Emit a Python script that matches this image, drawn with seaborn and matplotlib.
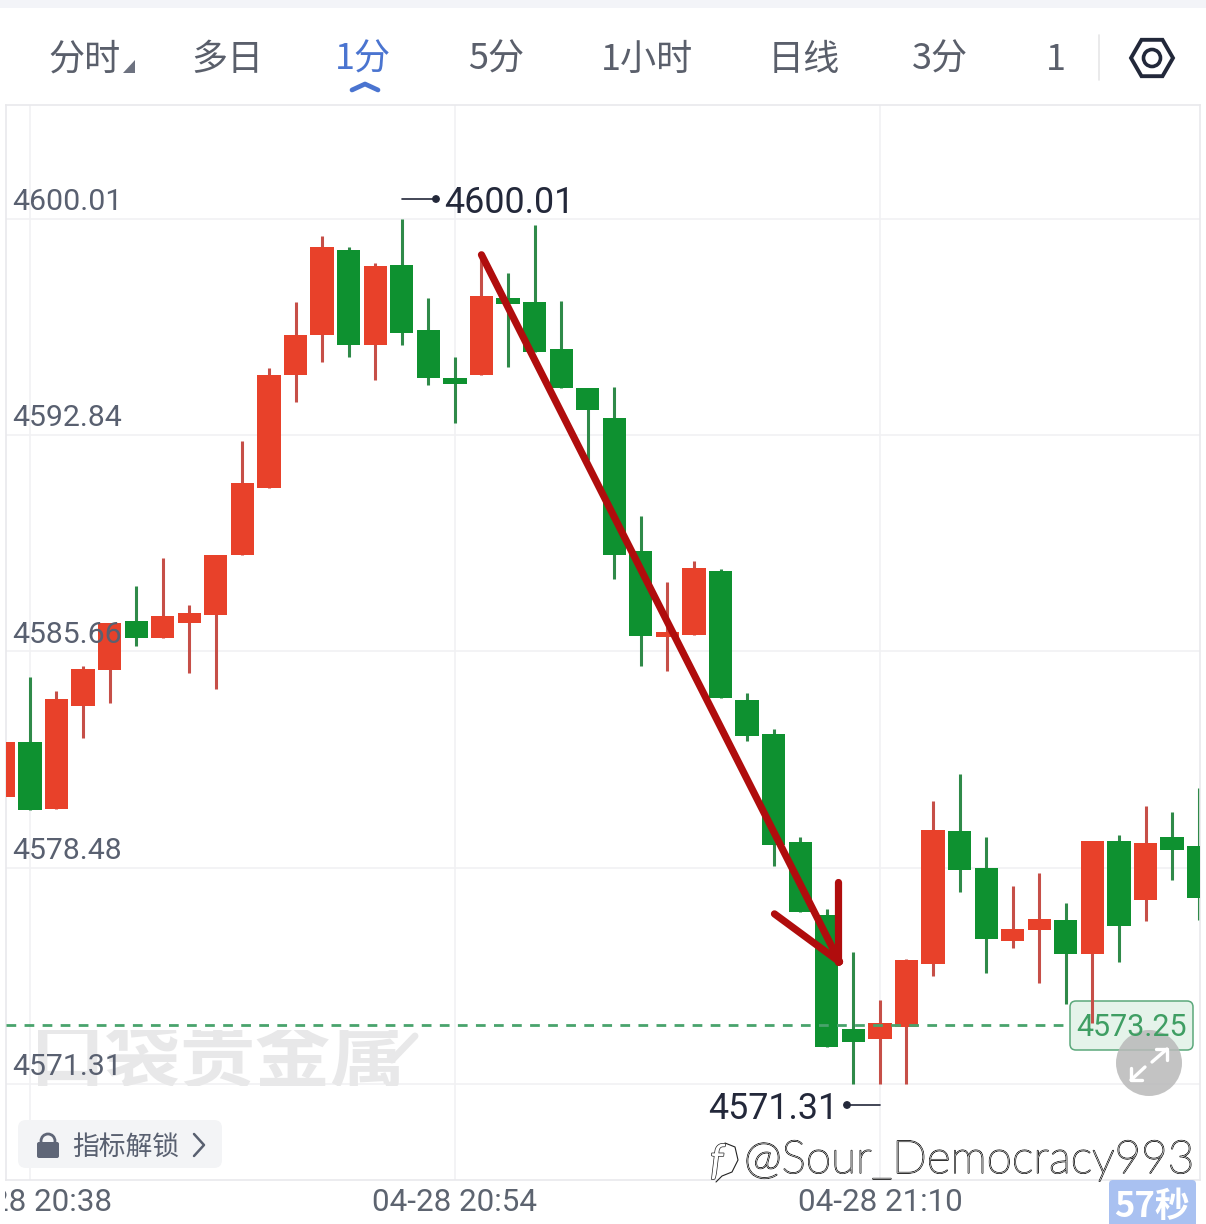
# -*- coding: utf-8 -*-
import numpy as np
import pandas as pd
import seaborn as sns
import matplotlib.pyplot as plt
from matplotlib.patches import Circle, FancyBboxPatch, Polygon, Rectangle, RegularPolygon
from matplotlib.transforms import Bbox
import matplotlib.patheffects as pe

# one minute candles, first one is cut off by the left edge
minute_idx = list(range(-1, 45))
opens = [4580.83, 4582.66, 4580.43, 4583.85, 4585.05, 4586.67, 4586.11, 4586.61, 4586.87, 4588.86,
         4591.08, 4594.83, 4596.16, 4598.98, 4595.83, 4598.48, 4596.33, 4594.73, 4594.83, 4597.39,
         4597.26, 4595.70, 4594.40, 4593.42, 4588.99, 4586.14, 4586.21, 4588.33, 4584.05, 4582.92,
         4579.32, 4576.92, 4573.13, 4572.80, 4573.20, 4575.29, 4579.70, 4578.48, 4576.05, 4576.42,
         4576.75, 4575.62, 4579.37, 4577.41, 4579.50, 4579.21]
closes = [4582.66, 4580.40, 4584.08, 4585.08, 4586.61, 4586.11, 4586.84, 4586.94, 4588.86, 4591.25,
          4594.83, 4596.16, 4599.08, 4595.83, 4598.45, 4596.23, 4594.73, 4594.54, 4597.46, 4597.19,
          4595.60, 4594.40, 4593.67, 4588.86, 4586.17, 4586.31, 4588.43, 4584.12, 4582.86, 4579.24,
          4577.02, 4572.54, 4572.70, 4573.33, 4575.42, 4579.74, 4578.41, 4576.12, 4576.45, 4576.78,
          4575.62, 4579.37, 4576.55, 4579.31, 4579.07, 4577.48]
highs = [4582.66, 4584.81, 4584.35, 4585.18, 4586.61, 4587.83, 4588.76, 4587.20, 4588.86, 4592.64,
         4595.07, 4597.26, 4599.45, 4599.08, 4598.55, 4600.01, 4597.39, 4595.43, 4598.82, 4598.22,
         4599.81, 4597.29, 4594.40, 4594.44, 4590.16, 4587.97, 4588.66, 4588.40, 4584.28, 4583.09,
         4579.50, 4577.12, 4575.69, 4574.10, 4575.46, 4580.70, 4581.60, 4579.50, 4577.88, 4578.31,
         4577.31, 4579.37, 4579.57, 4580.53, 4580.33, 4581.13]
lows = [4580.83, 4580.40, 4580.43, 4582.79, 4583.95, 4585.84, 4586.11, 4584.95, 4584.42, 4588.86,
        4591.08, 4593.94, 4595.27, 4595.43, 4594.67, 4595.83, 4594.50, 4593.24, 4594.83, 4595.10,
        4595.60, 4594.40, 4592.01, 4588.07, 4585.18, 4585.01, 4586.21, 4584.12, 4582.69, 4578.54,
        4577.02, 4572.54, 4571.31, 4571.31, 4571.31, 4574.89, 4577.68, 4574.99, 4575.82, 4574.66,
        4573.96, 4573.33, 4575.36, 4576.72, 4578.08, 4576.75]

price_ticks = [4600.01, 4592.84, 4585.66, 4578.48, 4571.31]
time_ticks = [0, 16, 32]
time_labels = ["04-28 20:38", "04-28 20:54", "04-28 21:10"]
last_price = 4573.25
tab_labels = ["分时", "多日", "1分", "5分", "1小时", "日线", "3分", "1"]

RED = "#e8412a"
GREEN = "#0e9130"
RED_WICK = "#c64f48"
GREEN_WICK = "#2f8a49"
ARROW = "#b00d0d"
GREY = "#596070"
CJK = ["Noto Sans CJK SC", "DejaVu Sans"]

sns.set_theme(style="white")
plt.rcParams["font.family"] = ["Roboto", "Noto Sans CJK SC", "DejaVu Sans"]

df = pd.DataFrame({"idx": minute_idx, "open": opens, "close": closes, "high": highs, "low": lows})
df["bottom"] = df[["open", "close"]].min(axis=1)
df["body"] = (df["close"] - df["open"]).abs()
up = df[df["close"] >= df["open"]]
down = df[df["close"] < df["open"]]

W, H = 1206, 1224
fig = plt.figure(figsize=(W / 100, H / 100), dpi=100)
fig.patch.set_facecolor("white")

# chart panel, pixel box 6..1200 x 105..1180
ax = fig.add_axes([6 / W, 1 - 1180 / H, 1194 / W, 1075 / H])
# overlay in image pixels for the app chrome round the chart
ov = fig.add_axes([0, 0, 1, 1], zorder=5)
ov.set_xlim(0, W)
ov.set_ylim(H, 0)
ov.axis("off")
ov.patch.set_alpha(0)

ax.vlines(up["idx"], up["low"], up["high"], color=RED_WICK, linewidth=2.2, zorder=2.5)
ax.vlines(down["idx"], down["low"], down["high"], color=GREEN_WICK, linewidth=2.2, zorder=2.5)
sns.barplot(data=up, x="idx", y="body", bottom=up["bottom"].to_numpy(), native_scale=True, errorbar=None,
            color=RED, saturation=1, width=0.875, linewidth=0, zorder=3, ax=ax)
sns.barplot(data=down, x="idx", y="body", bottom=down["bottom"].to_numpy(), native_scale=True, errorbar=None,
            color=GREEN, saturation=1, width=0.875, linewidth=0, zorder=3, ax=ax)

ax.set_xlim(-0.90, 44.05)
ax.set_ylim(4568.12, 4603.79)
ax.set_xlabel("")
ax.set_ylabel("")
ax.set_yticks(price_ticks)
ax.set_yticklabels([])
ax.set_xticks(time_ticks)
ax.set_xticklabels(time_labels, fontsize=22.6, color="#5d6470")
ax.tick_params(axis="x", length=0, pad=6)
ax.tick_params(axis="y", length=0)
ax.grid(True, color="#f1f1f3", linewidth=1.2, zorder=0)
ax.set_axisbelow(True)
for s in ax.spines.values():
    s.set_visible(True)
    s.set_color("#e9e9ec")
    s.set_linewidth(1.2)
for t in ax.get_xticklabels():
    t.set_clip_box(Bbox([[5, 0], [W, H]]))
    t.set_clip_on(True)

# last price line stops at the badge, the wick runs over the badge
ax.hlines(last_price, -0.90, 39.1, color="#49a36c", linewidth=2.0, linestyles=(0, (3.5, 3.0)), zorder=4)
ax.add_patch(FancyBboxPatch((1075, 1006), 113, 39, boxstyle="round,pad=5,rounding_size=6", linewidth=1.1,
                            edgecolor="#5ba87b", facecolor="#e5f3ea", transform=ov.transData,
                            clip_on=False, zorder=2.2))

# faint logo behind the candles, its top edge is cut off in the app
logo = ax.text(218, 1081, "口袋贵金属", transform=ov.transData, family=CJK, fontsize=54, fontweight="bold",
               color="#e8e8e9", ha="center", va="baseline", zorder=1)
logo.set_clip_box(Bbox([[0, H - 1086], [W, H - 1030]]))
logo.set_clip_on(True)
ax.plot([392, 415], [1060, 1036], color="#e8e8e9", linewidth=5, transform=ov.transData, zorder=1)

# red hand drawn arrow on the drop
arrow_kw = dict(color=ARROW, linewidth=5.2, solid_capstyle="round", zorder=6)
ax.plot([17.0, 30.48], [4598.82, 4575.36], **arrow_kw)
ax.plot([28.03, 30.48], [4576.95, 4575.36], **arrow_kw)
ax.plot([30.44, 30.44], [4578.01, 4575.36], **arrow_kw)

# price labels on the grid lines
for p in price_ticks:
    ov.annotate(f"{p:.2f}", xy=(12.5, p), xycoords=("data", ax.transData), xytext=(0, 6.3),
                textcoords="offset points", fontsize=21.8, color=GREY, ha="left", va="baseline")

# high / low markers
ov.text(444, 213, "4600.01", fontsize=25.8, color="#23283a", ha="left", va="baseline")
ov.plot([402, 436], [199, 199], color="#23283a", linewidth=1.2)
ov.add_patch(Circle((436, 199), 3.2, color="#23283a"))
ov.text(708, 1119, "4571.31", fontsize=25.8, color="#23283a", ha="left", va="baseline")
ov.plot([847, 880], [1105, 1105], color="#23283a", linewidth=1.2)
ov.add_patch(Circle((847, 1105), 3.2, color="#23283a"))

ov.text(1132, 1036, f"{last_price:.2f}", fontsize=22, color="#3f9e63", ha="center", va="baseline")

# tabs
ov.add_patch(Rectangle((0, 0), W, 8, color="#f3f4f8", linewidth=0))
tab_x = [48, 191, 335, 468, 601, 768, 912, 1046]
for label, x in zip(tab_labels, tab_x):
    ov.text(x, 70, label, family=CJK, fontsize=26, ha="left", va="baseline",
            color="#4a74d0" if label == "1分" else "#5a5f6b")
ov.add_patch(Polygon([[123, 73], [135, 73], [135, 60]], color="#6d7280", linewidth=0))
ov.plot([352, 365, 378], [90, 84, 90], color="#4a74d0", linewidth=3.4, solid_capstyle="round")
ov.plot([1099, 1099], [35, 80], color="#e6e6e8", linewidth=1.2)
ov.add_patch(RegularPolygon((1152, 58), 6, radius=21, orientation=np.pi / 2, fill=False,
                            edgecolor="#22283a", linewidth=2.8))
ov.add_patch(Circle((1152, 58), 8.5, fill=False, edgecolor="#22283a", linewidth=2.6))

# locked indicators pill
ov.add_patch(FancyBboxPatch((24, 1126), 192, 36, boxstyle="round,pad=6,rounding_size=8",
                            facecolor="#f3f4f6", linewidth=0))
ov.add_patch(FancyBboxPatch((38, 1143), 20, 14, boxstyle="round,pad=1,rounding_size=2",
                            facecolor="#5f6677", linewidth=0))
ov.add_patch(Circle((48, 1141), 7, fill=False, edgecolor="#5f6677", linewidth=2))
ov.text(72, 1155, "指标解锁", family=CJK, fontsize=19.3, color=GREY, ha="left", va="baseline")
ov.plot([194, 204, 194], [1134, 1145, 1156], color=GREY, linewidth=1.8)

# expand button
ov.add_patch(Circle((1149, 1063), 33, facecolor="#b9b9b9", alpha=0.85, linewidth=0))
ov.plot([1156, 1167, 1167], [1049, 1049, 1060], color="white", linewidth=2.4)
ov.plot([1167, 1152], [1049, 1062], color="white", linewidth=2.4)
ov.plot([1131, 1131, 1142], [1068, 1080, 1080], color="white", linewidth=2.4)
ov.plot([1131, 1145], [1080, 1067], color="white", linewidth=2.4)

# countdown badge
ov.add_patch(FancyBboxPatch((1112, 1183), 81, 50, boxstyle="round,pad=3,rounding_size=4",
                            facecolor="#a9c1f1", linewidth=0))
ov.text(1152, 1217, "57秒", family=CJK, fontsize=25, fontweight="bold", color="white",
        ha="center", va="baseline")

# site watermark, white letters with a thin dark edge
outline = [pe.withStroke(linewidth=1.0, foreground="#222222")]
ov.text(744, 1173, "@Sour_Democracy993", family=["Lato", "DejaVu Sans"], fontsize=33, color="white",
        ha="left", va="baseline", path_effects=outline, fontweight="light")
ov.text(710, 1174, "f", family=["Lato", "DejaVu Sans"], fontsize=30, color="white", style="italic",
        ha="left", va="baseline", path_effects=outline)
ov.plot([725, 735, 738, 732, 722, 716], [1143, 1147, 1160, 1172, 1176, 1182], color="#222222", linewidth=0.8)

fig.savefig("out.png", dpi=100)
